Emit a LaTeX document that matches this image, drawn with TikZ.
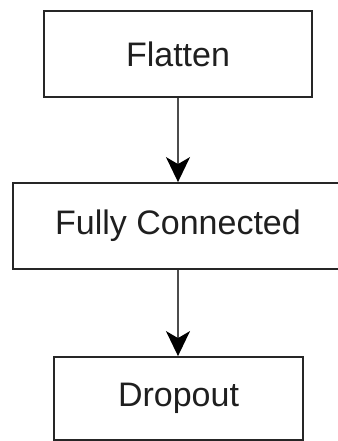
\documentclass[tikz,border=0pt]{standalone}
\usepackage{fontspec}
\setmainfont{Liberation Sans}
\usetikzlibrary{arrows.meta}
\begin{document}
\begin{tikzpicture}[x=1pt,y=1pt,
  box/.style={draw=black!85, line width=1.8pt, inner sep=0pt, font=\fontsize{34}{40}\selectfont, text=black!88},
  arr/.style={draw=black!70, line width=1.8pt, -{Stealth[length=25pt,width=24pt,inset=7pt,color=black]}}]
\useasboundingbox (0,0) rectangle (337,-441);
\node[box, minimum width=268pt, minimum height=86pt] (flat) at (178,-54) {Flatten};
\node[box, minimum width=330pt, minimum height=86pt] (fc) at (178,-226) {Fully Connected};
\node[box, minimum width=249pt, minimum height=83pt] (drop) at (178.5,-398.5) {Dropout};
\draw[arr] (flat.south) -- (fc.north);
\draw[arr] (fc.south) -- (drop.north -| fc.south);
\end{tikzpicture}
\end{document}
